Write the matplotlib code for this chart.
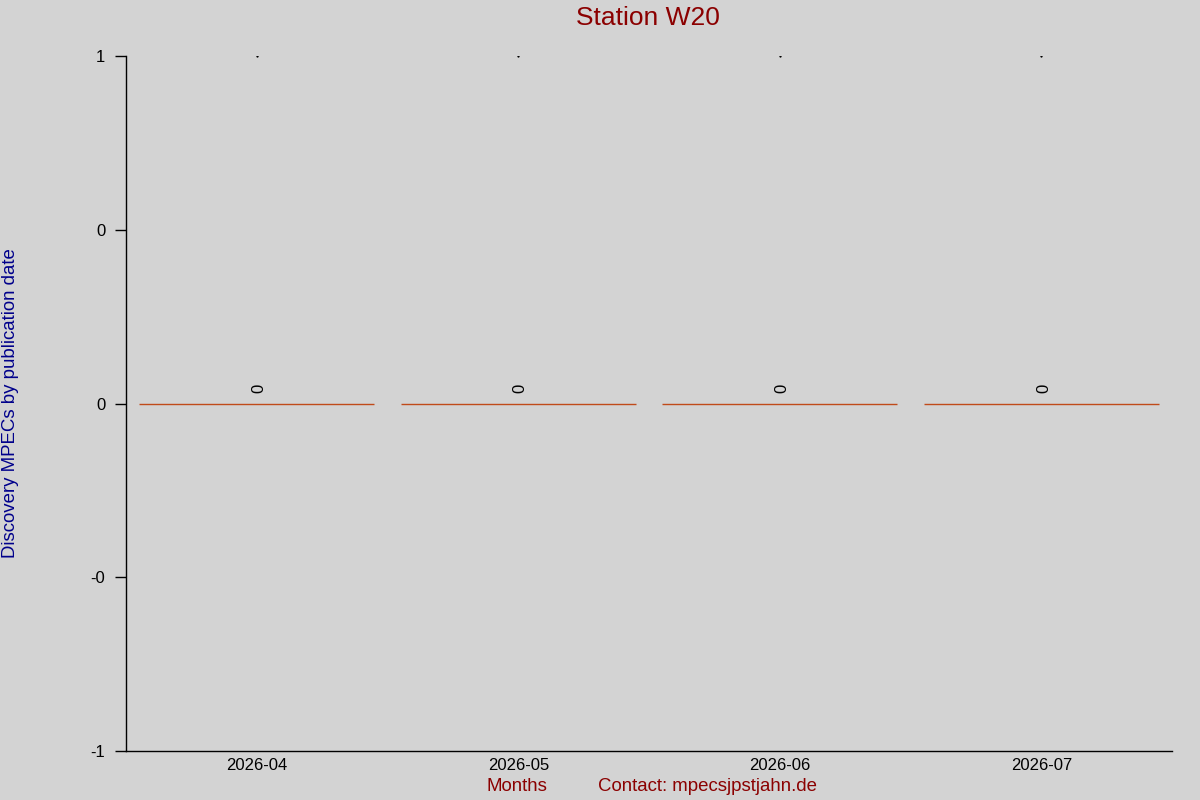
import matplotlib
matplotlib.use("Agg")
import matplotlib.pyplot as plt
from matplotlib.ticker import FormatStrFormatter

months = ["2026-04", "2026-05", "2026-06", "2026-07"]
counts = [0, 0, 0, 0]
y_ticks = [-1, -0.5, 0, 0.5, 1]

plt.rcParams['font.family'] = ['Liberation Sans', 'DejaVu Sans']

bg = '#d3d3d3'
fig = plt.figure(figsize=(12, 8), dpi=100, facecolor=bg)
ax = fig.add_axes([0.105, 0.06125, 0.8717, 0.86875], facecolor=bg)

x = list(range(len(months)))
ax.bar(x, counts, width=0.9, color='#c04a1a', edgecolor='#c04a1a', linewidth=1)
ax.plot(x, [1] * len(x), ls='none', marker='s', markersize=0.6, color='black')
for xi, c in zip(x, counts):
    ax.text(xi + 0.008, c + 0.03, str(c), rotation=90, ha='center', va='bottom', fontsize=12)

ax.set_xlim(-0.5, len(months) - 0.5)
ax.set_ylim(-1, 1)
ax.set_yticks(y_ticks)
ax.yaxis.set_major_formatter(FormatStrFormatter('%.0f'))
ax.set_xticks(x)
ax.set_xticklabels(months)
ax.tick_params(axis='x', length=0, labelsize=12, pad=5)
ax.tick_params(axis='y', length=8, width=1, labelsize=12, pad=7)
for s in ['top', 'right']:
    ax.spines[s].set_visible(False)
for s in ['left', 'bottom']:
    ax.spines[s].set_color('black')
    ax.spines[s].set_linewidth(1)

fig.text(0.54, 0.977, "Station W20", color='#8b0000', fontsize=19, ha='center', va='center')
fig.text(0.009, 0.496, "Discovery MPECs by publication date", color='#00008b', fontsize=13.4,
         rotation=90, ha='center', va='center')
fig.text(0.431, 0.017, "Months", color='#8b0000', fontsize=13.4, ha='center', va='center')
fig.text(0.498, 0.017, "Contact: mpecsjpstjahn.de", color='#8b0000', fontsize=13.4, ha='left', va='center')

fig.savefig("out.png", dpi=100, facecolor=bg)
